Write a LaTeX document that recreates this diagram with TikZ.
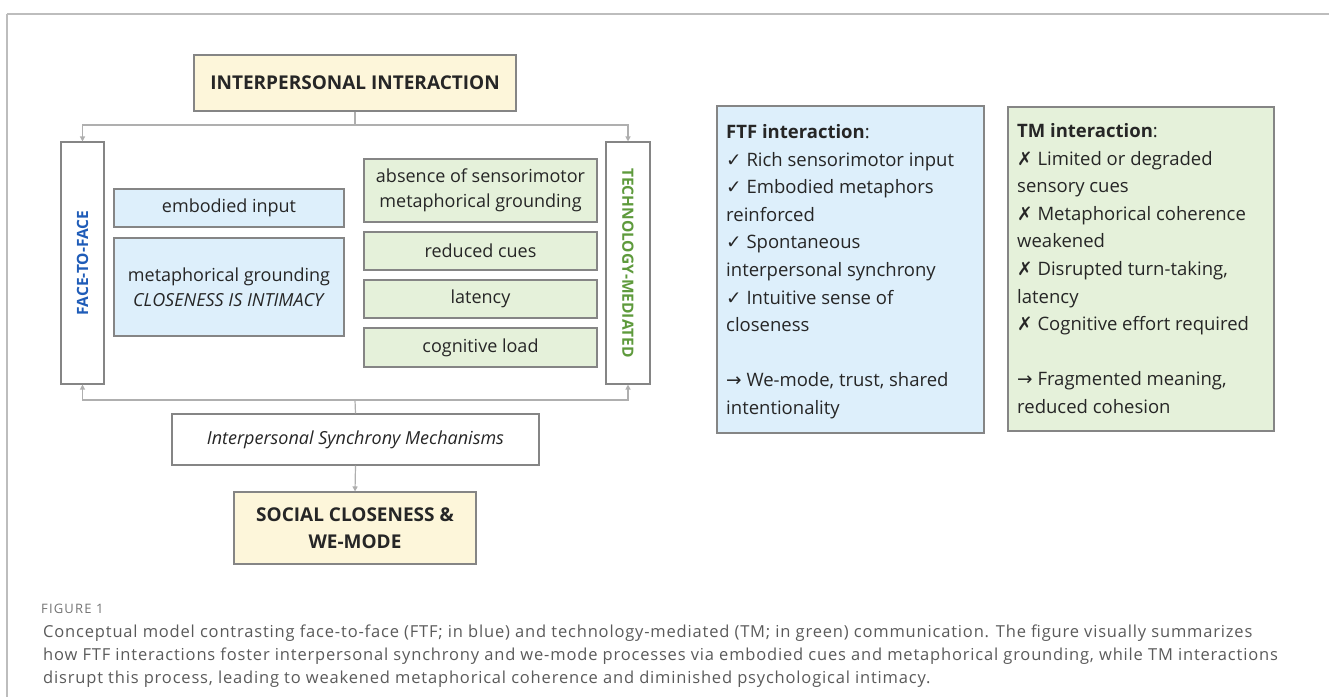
\documentclass[tikz,border=0pt]{standalone}
\usepackage{fontspec}
\setmainfont{Open Sans}
\newfontfamily\symfont{DejaVu Sans}
\newfontfamily\capfont[LetterSpace=5.0]{Open Sans}
\newfontfamily\figfont[LetterSpace=9.0]{Open Sans}
\usetikzlibrary{arrows.meta}
\definecolor{yelfill}{HTML}{FDF6DA}
\definecolor{bluefill}{HTML}{DDEFFB}
\definecolor{greenfill}{HTML}{E5F1DA}
\definecolor{boxgray}{HTML}{858585}
\definecolor{linegray}{HTML}{AFAFAF}
\definecolor{framegray}{HTML}{BDBDBD}
\definecolor{ftfblue}{HTML}{1F5CB8}
\definecolor{tmgreen}{HTML}{5E9A3C}
\definecolor{capgray}{HTML}{5A5A5A}
\newcommand{\chk}{{\symfont ✓}}
\newcommand{\crs}{{\symfont ✗}}
\newcommand{\rar}{{\symfont →}}
\begin{document}
\begin{tikzpicture}[x=1pt,y=-1pt,
  boxnode/.style={draw=boxgray, line width=1.1pt, inner sep=0pt, align=center,
    font=\fontsize{18}{24.5}\selectfont, text=black!85},
  yelbox/.style={boxnode, fill=yelfill, font=\fontsize{19}{26.7}\selectfont\bfseries},
  bluebox/.style={boxnode, fill=bluefill},
  greenbox/.style={boxnode, fill=greenfill},
  sidebox/.style={boxnode, fill=white, minimum width=43, minimum height=242},
  sidelbl/.style={font=\fontsize{15.5}{18}\selectfont\bfseries, inner sep=0pt},
  conn/.style={draw=linegray, line width=1.2pt},
  arr/.style={conn, -{Triangle[length=5pt,width=5pt]}},
  rtxt/.style={anchor=base west, inner sep=0pt, font=\fontsize{18.5}{24}\selectfont, text=black!85},
  captxt/.style={anchor=base west, inner sep=0pt, text=capgray, font=\capfont\fontsize{16.5}{20}\selectfont}
]
\useasboundingbox (0,0) rectangle (1329,697);
% frame
\draw[framegray, line width=2pt] (7,14) -- (1329,14);
\draw[framegray, line width=2pt] (7,14) -- (7,697);

% left diagram
\node[yelbox, minimum width=322, minimum height=56] (top) at (355,83) {INTERPERSONAL INTERACTION};
\node[sidebox] (face) at (82.5,263) {};
\node[sidelbl, rotate=90, text=ftfblue] (facelbl) at (face.center) {FACE-TO-FACE};
\node[sidebox, minimum width=44] (tech) at (628,263) {};
\node[sidelbl, rotate=-90, text=tmgreen] (techlbl) at (tech.center) {TECHNOLOGY-MEDIATED};

\node[bluebox, minimum width=230, minimum height=38] (emb) at (229,208) {embodied input};
\node[bluebox, minimum width=230, minimum height=98] (meta) at (229,287) {metaphorical grounding\\\textit{CLOSENESS IS INTIMACY}};

\node[greenbox, minimum width=233, minimum height=63] (abs) at (480.5,190.5) {absence of sensorimotor\\metaphorical grounding};
\node[greenbox, minimum width=233, minimum height=38] (red) at (480.5,251) {reduced cues};
\node[greenbox, minimum width=233, minimum height=38] (lat) at (480.5,299) {latency};
\node[greenbox, minimum width=233, minimum height=39] (cog) at (480.5,347.5) {cognitive load};

\node[boxnode, fill=white, minimum width=367, minimum height=51] (sync) at (355.5,439.5) {\textit{Interpersonal Synchrony Mechanisms}};
\node[yelbox, minimum width=242, minimum height=72] (soc) at (355,528) {SOCIAL CLOSENESS \&\\WE-MODE};

\coordinate (split) at (355,125);
\coordinate (join) at (355,400);
\draw[conn] (top.south) -- (split);
\draw[arr] (split) -| (face.north);
\draw[arr] (split) -| (tech.north);
\draw[conn] (sync.north) -- (join);
\draw[arr] (join) -| (face.south);
\draw[arr] (join) -| (tech.south);
\draw[arr] (sync.south) -- (soc.north);

% right panels
\node[boxnode, fill=bluefill, minimum width=267, minimum height=327] (ftfp) at (850.5,269.5) {};
\node[boxnode, fill=greenfill, minimum width=266, minimum height=324] (tmp) at (1141,269) {};

\foreach \i/\t in {0/{\textbf{FTF interaction}:},
  1/{\chk\ Rich sensorimotor input},
  2/{\chk\ Embodied metaphors},
  3/{reinforced},
  4/{\chk\ Spontaneous},
  5/{interpersonal synchrony},
  6/{\chk\ Intuitive sense of},
  7/{closeness},
  9/{\rar\ We-mode, trust, shared},
  10/{intentionality}}
  \node[rtxt] (ftfl\i) at (726,138.5+27.6*\i) {\t};

\foreach \i/\t in {0/{\textbf{TM interaction}:},
  1/{\crs\ Limited or degraded},
  2/{sensory cues},
  3/{\crs\ Metaphorical coherence},
  4/{weakened},
  5/{\crs\ Disrupted turn-taking,},
  6/{latency},
  7/{\crs\ Cognitive effort required},
  9/{\rar\ Fragmented meaning,},
  10/{reduced cohesion}}
  \node[rtxt] (tml\i) at (1017,137.5+27.6*\i) {\t};

% caption
\node[captxt, font=\figfont\fontsize{13}{14}\selectfont, text=capgray!85] (figlbl) at (41,613) {FIGURE 1};
\node[captxt] (cap1) at (43,637) {Conceptual model contrasting face-to-face (FTF; in blue) and technology-mediated (TM; in green) communication. The figure visually summarizes};
\node[captxt] (cap2) at (43,660) {how FTF interactions foster interpersonal synchrony and we-mode processes via embodied cues and metaphorical grounding, while TM interactions};
\node[captxt] (cap3) at (43,683) {disrupt this process, leading to weakened metaphorical coherence and diminished psychological intimacy.};
\end{tikzpicture}
\end{document}
